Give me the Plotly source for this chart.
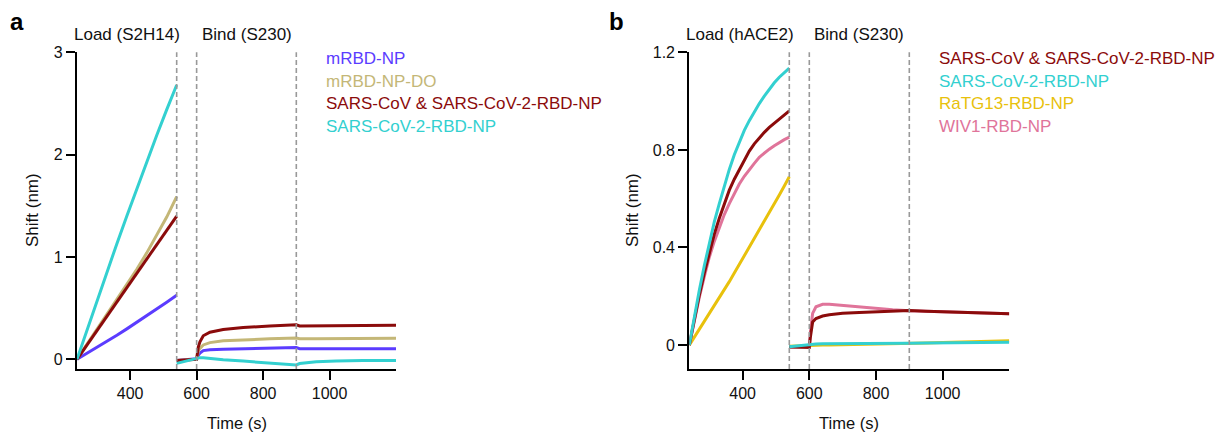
import plotly.graph_objects as go

# ---------------- data ----------------
# Panel a (Load S2H14, Bind S230)
a_t_load = [240, 270, 300, 330, 360, 390, 420, 450, 480, 510, 540]
a_mrbd_load = [0, 0.057, 0.115, 0.175, 0.235, 0.297, 0.36, 0.424, 0.49, 0.557, 0.625]
a_do_load = [0, 0.145, 0.29, 0.435, 0.58, 0.73, 0.88, 1.04, 1.21, 1.39, 1.59]
a_mosaic_load = [0, 0.14, 0.28, 0.42, 0.56, 0.70, 0.84, 0.98, 1.12, 1.26, 1.40]
a_cov2_load = [0, 0.285, 0.57, 0.85, 1.13, 1.40, 1.67, 1.93, 2.19, 2.44, 2.68]

a_t_bind = [540, 570, 600, 605, 610, 620, 640, 680, 740, 820, 900, 910, 960, 1020, 1100, 1200]
a_mrbd_bind = [-0.013, -0.004, 0.005, 0.04, 0.06, 0.085, 0.092, 0.098, 0.102, 0.106, 0.114, 0.104, 0.104, 0.104, 0.104, 0.104]
a_do_bind = [-0.012, -0.005, 0.0, 0.08, 0.107, 0.14, 0.163, 0.18, 0.19, 0.20, 0.208, 0.20, 0.20, 0.20, 0.202, 0.205]
a_mosaic_bind = [-0.012, -0.005, 0.0, 0.12, 0.17, 0.23, 0.265, 0.29, 0.31, 0.325, 0.337, 0.326, 0.328, 0.33, 0.332, 0.333]
a_cov2_bind = [-0.04, -0.015, 0.01, 0.014, 0.016, 0.015, 0.006, -0.005, -0.018, -0.035, -0.055, -0.042, -0.025, -0.017, -0.011, -0.013]

a_names = ["mRBD-NP", "mRBD-NP-DO", "SARS-CoV & SARS-CoV-2-RBD-NP", "SARS-CoV-2-RBD-NP"]
a_colors = ["#5b3cff", "#c4b777", "#8b0b0b", "#33d0d0"]

# Panel b (Load hACE2, Bind S230)
b_t_load = [240, 255, 270, 285, 300, 315, 330, 345, 360, 375, 390, 405, 420, 435, 450, 465, 480, 495, 510, 525, 540]
b_mosaic_load = [0, 0.105, 0.205, 0.295, 0.38, 0.455, 0.52, 0.58, 0.635, 0.68, 0.72, 0.76, 0.795, 0.825, 0.85, 0.872, 0.892, 0.91, 0.928, 0.944, 0.96]
b_cov2_load = [0, 0.115, 0.225, 0.325, 0.42, 0.505, 0.58, 0.655, 0.72, 0.78, 0.83, 0.88, 0.92, 0.958, 0.99, 1.02, 1.048, 1.075, 1.098, 1.118, 1.135]
b_ratg_load = [0, 0.032, 0.065, 0.098, 0.13, 0.162, 0.195, 0.228, 0.26, 0.295, 0.33, 0.365, 0.40, 0.435, 0.47, 0.505, 0.54, 0.578, 0.615, 0.652, 0.69]
b_wiv_load = [0, 0.1, 0.195, 0.28, 0.36, 0.425, 0.48, 0.535, 0.58, 0.622, 0.66, 0.692, 0.72, 0.745, 0.77, 0.787, 0.803, 0.817, 0.83, 0.842, 0.852]

b_t_bind = [540, 570, 600, 603, 606, 610, 620, 640, 660, 700, 750, 800, 850, 900, 950, 1000, 1100, 1200]
b_mosaic_bind = [-0.008, -0.008, -0.01, 0.03, 0.07, 0.095, 0.109, 0.119, 0.124, 0.13, 0.134, 0.137, 0.14, 0.142, 0.139, 0.137, 0.133, 0.128]
b_cov2_bind = [-0.007, -0.002, 0.003, 0.003, 0.004, 0.004, 0.004, 0.005, 0.005, 0.006, 0.006, 0.007, 0.008, 0.008, 0.009, 0.010, 0.011, 0.012]
b_ratg_bind = [-0.005, -0.003, 0.0, 0.0, -0.002, -0.002, -0.001, 0.0, 0.0, 0.001, 0.002, 0.003, 0.004, 0.006, 0.009, 0.011, 0.015, 0.018]
b_wiv_bind = [-0.008, -0.008, -0.005, 0.05, 0.10, 0.13, 0.157, 0.167, 0.167, 0.162, 0.157, 0.151, 0.145, 0.141, 0.139, 0.137, 0.133, 0.128]

b_names = ["SARS-CoV & SARS-CoV-2-RBD-NP", "SARS-CoV-2-RBD-NP", "RaTG13-RBD-NP", "WIV1-RBD-NP"]
b_colors = ["#8b0b0b", "#33d0d0", "#e8c10c", "#e0749a"]

x_ticks = [400, 600, 800, 1000]
a_y_ticks = [0, 1, 2, 3]
b_y_ticks = [0, 0.4, 0.8, 1.2]
phase_lines = [540, 600, 900]

FONT = "Liberation Sans, Arial, sans-serif"
W, H = 1225, 433


def px(x):
    return x / W


def py(y):
    return 1 - y / H


fig = go.Figure()


def add_series(t_load, v_load, t_bind, v_bind, color, xa, ya):
    x = list(t_load) + [None] + list(t_bind)
    y = list(v_load) + [None] + list(v_bind)
    fig.add_trace(go.Scatter(x=x, y=y, mode="lines", line=dict(color=color, width=3),
                             connectgaps=False, showlegend=False, xaxis=xa, yaxis=ya,
                             hoverinfo="skip"))


a_load = [a_mrbd_load, a_do_load, a_mosaic_load, a_cov2_load]
a_bind = [a_mrbd_bind, a_do_bind, a_mosaic_bind, a_cov2_bind]
for i in [0, 1, 2, 3]:
    add_series(a_t_load, a_load[i], a_t_bind, a_bind[i], a_colors[i], "x", "y")

b_load = [b_mosaic_load, b_cov2_load, b_ratg_load, b_wiv_load]
b_bind = [b_mosaic_bind, b_cov2_bind, b_ratg_bind, b_wiv_bind]
for i in [2, 3, 0, 1]:
    add_series(b_t_load, b_load[i], b_t_bind, b_bind[i], b_colors[i], "x2", "y2")

axis_common = dict(showline=True, linecolor="black", linewidth=2.2, ticks="outside",
                   ticklen=9, tickwidth=2, tickcolor="black", showgrid=False, zeroline=False,
                   automargin=False,
                   tickfont=dict(family=FONT, size=16, color="#111"))

fig.update_layout(
    template="none",
    width=W, height=H, margin=dict(l=0, r=0, t=0, b=0, pad=0, autoexpand=False),
    paper_bgcolor="white", plot_bgcolor="white",
    xaxis=dict(domain=[px(77), px(396)], range=[240, 1200], tickvals=x_ticks, anchor="y", **axis_common),
    yaxis=dict(domain=[py(369), py(52.3)], range=[-0.095, 3], tickvals=a_y_ticks, anchor="x", **axis_common),
    xaxis2=dict(domain=[px(689.3), px(1009.3)], range=[240, 1200], tickvals=x_ticks, anchor="y2", **axis_common),
    yaxis2=dict(domain=[py(369), py(52.3)], range=[-0.098, 1.2], tickvals=b_y_ticks, anchor="x2", **axis_common),
)

shapes = []
for xr, yr in [("x", "y"), ("x2", "y2")]:
    for t in phase_lines:
        shapes.append(dict(type="line", xref=xr, yref=yr + " domain", x0=t, x1=t, y0=0, y1=1,
                           line=dict(color="#999999", width=1.6, dash="5px,3px")))
fig.update_layout(shapes=shapes)

ann = []


def text(x, y, s, size=17, color="#111", xanchor="center", bold=False, angle=0):
    ann.append(dict(x=px(x), y=py(y), xref="paper", yref="paper", text=("<b>%s</b>" % s) if bold else s,
                    showarrow=False, xanchor=xanchor, yanchor="middle", textangle=angle,
                    font=dict(family=FONT, size=size, color=color)))


# panel letters
text(17, 22, "a", size=24, bold=True, color="black")
text(616, 22, "b", size=24, bold=True, color="black")
# phase labels
text(126.7, 35, "Load (S2H14)")
text(246.7, 35, "Bind (S230)")
text(739.7, 35, "Load (hACE2)")
text(858.7, 35, "Bind (S230)")
# axis titles
text(32, 210, "Shift (nm)", size=17, angle=-90)
text(632, 210, "Shift (nm)", size=17, angle=-90)
text(236.5, 423, "Time (s)", size=16.5)
text(849, 423, "Time (s)", size=16.5)
# legends
for i, yy in enumerate([59, 81.5, 104, 126.5]):
    text(324, yy, a_names[i], color=a_colors[i], xanchor="left")
for i, yy in enumerate([58.5, 81.5, 104, 127]):
    text(937, yy, b_names[i], color=b_colors[i], xanchor="left")

fig.update_layout(annotations=ann)
fig.write_html("out.html", config={"displayModeBar": False},
               post_script="document.body.style.margin='0px';document.body.style.overflow='hidden';")
